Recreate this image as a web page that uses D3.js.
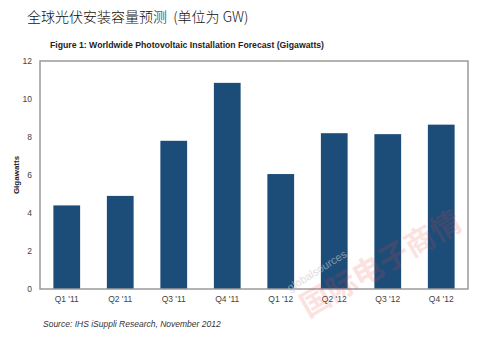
<!DOCTYPE html>
<html><head><meta charset="utf-8">
<script src="https://cdn.jsdelivr.net/npm/d3@7"></script>
<style>body{margin:0;background:#fff}</style>
</head><body>
<svg id="c" width="486" height="341"></svg>
<script>
const categories = ["Q1 '11","Q2 '11","Q3 '11","Q4 '11","Q1 '12","Q2 '12","Q3 '12","Q4 '12"];
const values = [4.4, 4.9, 7.8, 10.85, 6.05, 8.2, 8.15, 8.65];
const yTicks = [0, 2, 4, 6, 8, 10, 12];

const svg = d3.select("#c");
const L = 40, R = 468, T = 61, B = 289;
const x = d3.scaleBand().domain(categories).range([L, R]).paddingInner(0.5).paddingOuter(0.25);
const y = d3.scaleLinear().domain([0, 12]).range([B, T]);

svg.append("text").attr("x", 27).attr("y", 22).attr("font-family", "Noto Sans CJK SC, sans-serif")
  .attr("font-size", 14).attr("font-weight", 300).attr("fill", "#111").attr("xml:space", "preserve")
  .text("全球光伏安装容量预测  (单位为 GW)");
svg.append("text").attr("x", 50).attr("y", 48).attr("font-family", "Liberation Sans, Arial, sans-serif")
  .attr("font-size", 8.7).attr("font-weight", "bold").attr("fill", "#222")
  .text("Figure 1: Worldwide Photovoltaic Installation Forecast (Gigawatts)");

svg.selectAll("rect.bar").data(values).join("rect").attr("class", "bar")
  .attr("x", (d, i) => x(categories[i])).attr("width", x.bandwidth())
  .attr("y", d => y(d)).attr("height", d => B - y(d)).attr("fill", "#1c4d78");

svg.append("rect").attr("x", L).attr("y", T).attr("width", R - L).attr("height", B - T)
  .attr("fill", "none").attr("stroke", "#9a9a9a").attr("stroke-width", 1.5);

const yAxis = svg.append("g").attr("transform", `translate(${L},0)`)
  .call(d3.axisLeft(y).tickValues(yTicks).tickSize(0).tickPadding(8));
yAxis.select(".domain").remove();
yAxis.selectAll("text").attr("font-family", "Liberation Sans, Arial, sans-serif").attr("font-size", 8.5).attr("fill", "#444");

const xAxis = svg.append("g").attr("transform", `translate(0,${B})`)
  .call(d3.axisBottom(x).tickSize(0).tickPadding(7));
xAxis.select(".domain").remove();
xAxis.selectAll("text").attr("font-family", "Liberation Sans, Arial, sans-serif").attr("font-size", 8.5).attr("fill", "#444");

svg.append("text").attr("transform", "translate(19,175) rotate(-90)").attr("text-anchor", "middle")
  .attr("font-family", "Liberation Sans, Arial, sans-serif").attr("font-size", 8).attr("font-weight", "bold")
  .attr("fill", "#222").text("Gigawatts");

svg.append("text").attr("x", 43).attr("y", 327).attr("font-family", "Liberation Sans, Arial, sans-serif")
  .attr("font-size", 8.5).attr("font-style", "italic").attr("fill", "#333")
  .text("Source: IHS iSuppli Research, November 2012");

// watermark
svg.append("text").attr("transform", "translate(290,292) rotate(-32)")
  .attr("font-family", "Liberation Sans, Arial, sans-serif").attr("font-size", 11)
  .attr("fill", "#c8c8c8").attr("opacity", 0.6).text("globalsources");
svg.append("text").attr("transform", "translate(308,318) rotate(-30)")
  .attr("font-family", "Noto Sans CJK SC, sans-serif").attr("font-size", 30).attr("font-weight", "bold")
  .attr("fill", "#f04040").attr("opacity", 0.15).text("国际电子商情");
</script>
</body></html>
